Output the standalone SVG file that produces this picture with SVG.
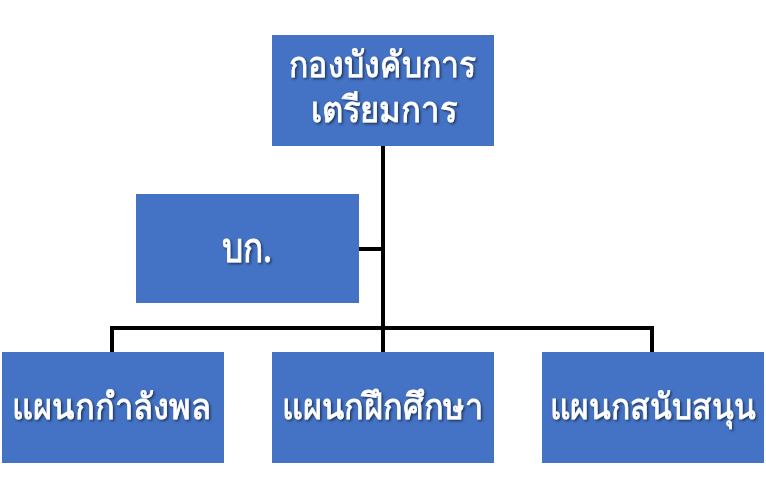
<svg xmlns="http://www.w3.org/2000/svg" width="766" height="502" viewBox="0 0 766 502">
<defs>
<filter id="sh" x="-10%" y="-20%" width="130%" height="150%">
<feDropShadow dx="1.5" dy="1.5" stdDeviation="1" flood-color="#000" flood-opacity="0.55"/>
</filter>
</defs>
<style>
.box{fill:#4472C4}
.t{fill:#fff;stroke:#fff;stroke-width:0.8;font-family:"Noto Sans","DejaVu Sans",sans-serif;font-size:36px;text-anchor:middle;filter:url(#sh)}
.ln{stroke:#000;stroke-width:4;fill:none}
</style>
<rect width="766" height="502" fill="#fff"/>
<g id="connectors">
<path class="ln" d="M383 145V328M358 249H383M110 328H654M112 328V352M383 328V352M652 328V352"/>
</g>
<g id="n-top">
<rect class="box" x="272" y="35" width="222" height="111"/>
<text class="t" x="382.5" y="77" textLength="187" lengthAdjust="spacingAndGlyphs">กองบังคับการ</text>
<text class="t" x="384" y="122" textLength="146" lengthAdjust="spacingAndGlyphs">เตรียมการ</text>
</g>
<g id="n-bk">
<rect class="box" x="136" y="194" width="223" height="109"/>
<text class="t" x="247" y="262" style="font-size:40px" textLength="50" lengthAdjust="spacingAndGlyphs">บก.</text>
</g>
<g id="n-1">
<rect class="box" x="2" y="352" width="222" height="111"/>
<text class="t" x="111.5" y="419" textLength="199" lengthAdjust="spacingAndGlyphs">แผนกกำลังพล</text>
</g>
<g id="n-2">
<rect class="box" x="272" y="352" width="222" height="111"/>
<text class="t" x="382.5" y="419" textLength="201" lengthAdjust="spacingAndGlyphs">แผนกฝึกศึกษา</text>
</g>
<g id="n-3">
<rect class="box" x="542" y="352" width="222" height="111"/>
<text class="t" x="653" y="419" textLength="206" lengthAdjust="spacingAndGlyphs">แผนกสนับสนุน</text>
</g>
</svg>
